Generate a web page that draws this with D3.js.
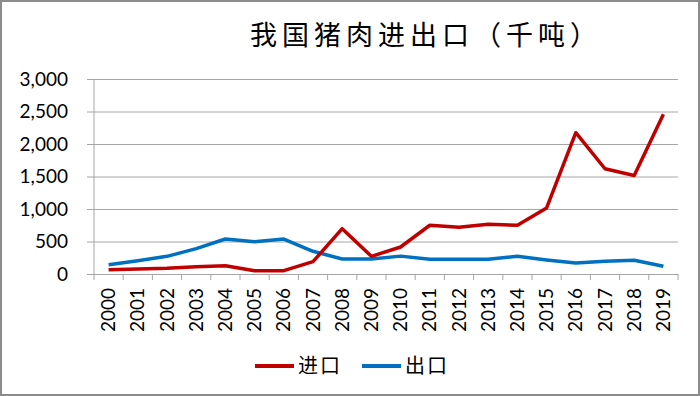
<!DOCTYPE html>
<html>
<head>
<meta charset="utf-8">
<script src="https://cdn.jsdelivr.net/npm/d3@7"></script>
<style>
  body { margin: 0; background: #fff; }
  svg { display: block; }
</style>
</head>
<body>
<svg id="chart" width="700" height="396"></svg>
<script>
// Data (thousand tonnes)
const years = ['2000','2001','2002','2003','2004','2005','2006','2007','2008','2009',
               '2010','2011','2012','2013','2014','2015','2016','2017','2018','2019'];
const imports = [65, 77, 87, 113, 128, 51, 51, 190, 697, 272,
                 415, 750, 719, 766, 750, 1017, 2174, 1619, 1516, 2456];
const exports = [142, 205, 272, 390, 538, 497, 538, 349, 231, 231,
                 275, 226, 226, 226, 272, 216, 170, 195, 211, 118];
const yTicks = [0, 500, 1000, 1500, 2000, 2500, 3000];

const svg = d3.select('#chart');
const W = 700, H = 396;
const margin = { top: 79, right: 22, bottom: 122, left: 94 };
const innerW = W - margin.left - margin.right;
const innerH = H - margin.top - margin.bottom;
const font = 'Lato, "Noto Sans", sans-serif';
const cjk = '"Noto Sans CJK SC", sans-serif';

// outer border
svg.append('rect')
    .attr('x', 1).attr('y', 1)
    .attr('width', W - 2).attr('height', H - 2)
    .attr('fill', '#fff')
    .attr('stroke', '#8c8c8c')
    .attr('stroke-width', 2);

// title
svg.append('text')
    .attr('x', 426).attr('y', 45)
    .attr('text-anchor', 'middle')
    .attr('font-family', cjk)
    .attr('font-size', 27)
    .attr('letter-spacing', 5)
    .attr('fill', '#000')
    .text('我国猪肉进出口（千吨）');

const x = d3.scaleBand().domain(years).range([0, innerW]);
const y = d3.scaleLinear().domain([0, 3000]).range([innerH, 0]);

const g = svg.append('g')
    .attr('transform', `translate(${margin.left},${margin.top})`);

// y axis with gridlines
const yAxis = g.append('g')
    .call(d3.axisLeft(y).tickValues(yTicks).tickSize(-innerW).tickSizeOuter(0)
        .tickFormat(d3.format(',')));
yAxis.select('.domain').remove();
yAxis.selectAll('.tick line')
    .attr('x1', -7)
    .attr('stroke', '#a6a6a6');
yAxis.selectAll('.tick text')
    .attr('x', -26)
    .attr('font-family', font)
    .attr('font-size', 19)
    .attr('fill', '#000');

// vertical axis line
g.append('line')
    .attr('x1', 0).attr('x2', 0)
    .attr('y1', 0).attr('y2', innerH)
    .attr('stroke', '#a6a6a6');

// x axis: ticks at category boundaries
const xAxis = g.append('g')
    .attr('transform', `translate(0,${innerH})`)
    .call(d3.axisBottom(x).tickSize(0).tickSizeOuter(0));
xAxis.select('.domain').attr('stroke', '#a6a6a6');
xAxis.selectAll('.tick text')
    .attr('transform', 'rotate(-90)')
    .attr('text-anchor', 'end')
    .attr('x', -14)
    .attr('y', 0)
    .attr('dy', '0.35em')
    .attr('font-family', font)
    .attr('font-size', 19)
    .attr('fill', '#000');

const bounds = d3.range(years.length + 1).map(i => i * x.step());
g.append('g').selectAll('line')
    .data(bounds)
    .join('line')
    .attr('x1', d => d).attr('x2', d => d)
    .attr('y1', innerH).attr('y2', innerH + 6)
    .attr('stroke', '#a6a6a6');

// lines
const line = d3.line()
    .x((d, i) => x(years[i]) + x.bandwidth() / 2)
    .y(d => y(d));

const series = [
    { name: '进口', values: imports, color: '#c00000' },
    { name: '出口', values: exports, color: '#0070c0' }
];

g.selectAll('.series')
    .data(series.slice().reverse())
    .join('path')
    .attr('class', 'series')
    .attr('fill', 'none')
    .attr('stroke', d => d.color)
    .attr('stroke-width', 3.5)
    .attr('stroke-linejoin', 'round')
    .attr('d', d => line(d.values));

// legend
const legend = svg.append('g').attr('transform', 'translate(255,366)');
const legendX = [0, 107];
series.forEach((s, i) => {
    const lg = legend.append('g').attr('transform', `translate(${legendX[i]},0)`);
    lg.append('line')
        .attr('x1', 0).attr('x2', 39)
        .attr('y1', 0).attr('y2', 0)
        .attr('stroke', s.color)
        .attr('stroke-width', 4);
    lg.append('text')
        .attr('x', 43).attr('y', 0)
        .attr('dy', '0.35em')
        .attr('font-family', cjk)
        .attr('font-size', 20)
        .attr('letter-spacing', 2)
        .attr('fill', '#000')
        .text(s.name);
});
</script>
</body>
</html>
